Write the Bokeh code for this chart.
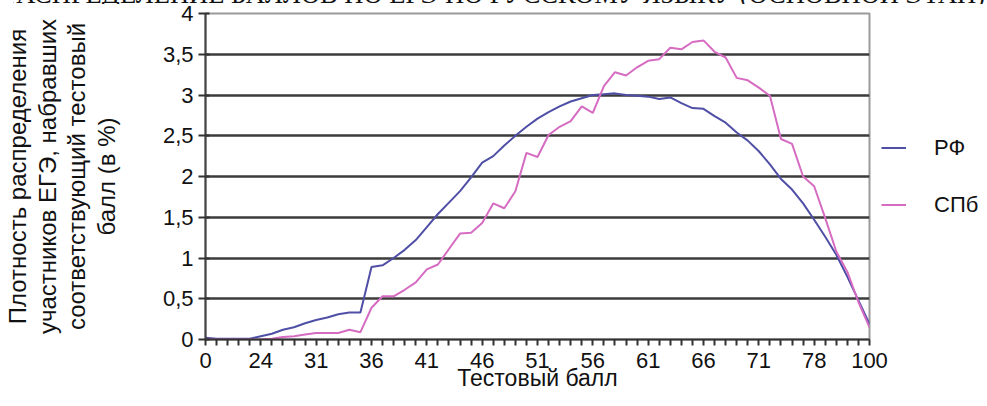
from bokeh.plotting import figure
from bokeh.models import (Range1d, FixedTicker, Legend, LegendItem, Title,
                          CustomJSTickFormatter, Div)
from bokeh.embed import file_html
from bokeh.resources import INLINE

# ---------------- data ----------------
title_text = "РАСПРЕДЕЛЕНИЕ БАЛЛОВ ПО ЕГЭ ПО РУССКОМУ ЯЗЫКУ (ОСНОВНОЙ ЭТАП)"
tick_labels = ["0", "24", "31", "36", "41", "46", "51", "56", "61", "66", "71", "78", "100"]
label_step = 5
series_names = ["РФ", "СПб"]
series_colors = ["#4F4FA6", "#D66CC2"]
rf = [0.02, 0.01, 0.01, 0.01, 0.01, 0.04, 0.07, 0.12, 0.15, 0.20,
      0.24, 0.27, 0.31, 0.33, 0.33, 0.89, 0.91, 1.00, 1.10, 1.22,
      1.38, 1.54, 1.68, 1.82, 1.99, 2.17, 2.25, 2.38, 2.50, 2.61,
      2.71, 2.79, 2.86, 2.92, 2.96, 3.00, 3.01, 3.02, 3.00, 2.99,
      2.98, 2.95, 2.97, 2.90, 2.84, 2.83, 2.74, 2.66, 2.54, 2.44,
      2.31, 2.15, 1.97, 1.84, 1.67, 1.47, 1.26, 1.04, 0.77, 0.48,
      0.19]
spb = [0.0, 0.0, 0.0, 0.0, 0.0, 0.0, 0.01, 0.03, 0.04, 0.06,
       0.08, 0.08, 0.08, 0.12, 0.09, 0.39, 0.53, 0.53, 0.61, 0.70,
       0.86, 0.92, 1.11, 1.30, 1.31, 1.43, 1.67, 1.61, 1.82, 2.29,
       2.24, 2.51, 2.61, 2.68, 2.86, 2.78, 3.11, 3.28, 3.24, 3.34,
       3.42, 3.44, 3.58, 3.56, 3.65, 3.67, 3.53, 3.46, 3.21, 3.18,
       3.09, 2.99, 2.46, 2.40, 2.00, 1.88, 1.49, 1.08, 0.83, 0.46,
       0.15]
y_ticks = [0, 0.5, 1, 1.5, 2, 2.5, 3, 3.5, 4]
y_label_lines = ["Плотность распределения", "участников ЕГЭ, набравших",
                 "соответствующий тестовый", "балл (в %)"]
x_label = "Тестовый балл"

# ---------------- layout ----------------
FONT = "Liberation Sans"
idx = list(range(len(rf)))

p = figure(frame_width=664, frame_height=326, output_backend="svg",
           toolbar_location=None,
           x_range=Range1d(0, len(rf) - 1), y_range=Range1d(0, y_ticks[-1]),
           min_border_left=196, min_border_right=111, min_border_top=0,
           min_border_bottom=0, background_fill_color="white",
           border_fill_color="white")
# small spacer above the frame
p.add_layout(Title(text=" ", text_font_size="4px", standoff=6, offset=0), "above")

p.outline_line_color = "#9a9a9a"
p.outline_line_width = 2

p.xgrid.grid_line_color = None
p.ygrid.ticker = FixedTicker(ticks=y_ticks[1:-1])
p.ygrid.grid_line_color = "#3c3c3c"
p.ygrid.grid_line_width = 2.5

r1 = p.line(idx, rf, line_color=series_colors[0], line_width=2)
r2 = p.line(idx, spb, line_color=series_colors[1], line_width=2)

# x axis
xa = p.xaxis[0]
xa.ticker = FixedTicker(ticks=idx)
xa.major_label_overrides = {i: (tick_labels[i // label_step] if i % label_step == 0 else "")
                            for i in idx}
xa.minor_tick_line_color = None
xa.major_tick_out = 6
xa.major_tick_in = 0
xa.major_tick_line_width = 2
xa.major_tick_line_color = "#333333"
xa.axis_line_width = 2
xa.axis_line_color = "#333333"
xa.major_label_text_font = FONT
xa.major_label_text_font_size = "22px"
xa.major_label_text_color = "#111111"
xa.major_label_standoff = 7
xa.axis_label = x_label
xa.axis_label_standoff = -6
xa.axis_label_text_font = FONT
xa.axis_label_text_font_size = "23px"
xa.axis_label_text_font_style = "normal"
xa.axis_label_text_color = "#111111"

# y axis
ya = p.yaxis[0]
ya.ticker = FixedTicker(ticks=y_ticks)
ya.formatter = CustomJSTickFormatter(code="return tick.toString().replace('.', ',');")
ya.minor_tick_line_color = None
ya.major_tick_out = 7
ya.major_tick_in = 4
ya.major_tick_line_width = 2
ya.major_tick_line_color = "#333333"
ya.axis_line_width = 2
ya.axis_line_color = "#444444"
ya.major_label_text_font = FONT
ya.major_label_text_font_size = "22px"
ya.major_label_text_color = "#111111"
ya.major_label_standoff = 5
ya.axis_label = "\n".join(y_label_lines)
ya.axis_label_standoff = 40
ya.axis_label_text_font = FONT
ya.axis_label_text_font_size = "24px"
ya.axis_label_text_font_style = "normal"
ya.axis_label_text_color = "#111111"
ya.axis_label_text_line_height = 1.1
ya.axis_label_text_align = "center"

legend = Legend(items=[LegendItem(label=series_names[0], renderers=[r1]),
                       LegendItem(label=series_names[1], renderers=[r2])],
                location="center_left", orientation="vertical", margin=12, padding=0,
                spacing=31, glyph_width=25, glyph_height=26, label_height=26,
                label_standoff=28, label_text_font=FONT, label_text_font_size="22px",
                label_text_color="#111111", border_line_color=None,
                background_fill_color=None, background_fill_alpha=0)
p.add_layout(legend, "right")

title_div = Div(
    text=('<div style="width:971px;height:22px;overflow:hidden;">'
          '<div style="width:1100px;margin-left:-68px;text-align:center;white-space:nowrap;'
          "font-family:'Liberation Serif';font-size:26.5px;line-height:22px;padding-top:1px;"
          'color:#111111;">' + title_text + '</div></div>'),
    width=971, height=22,
    styles={"position": "absolute", "top": "-23px", "left": "8px"})

with open("out.html", "w", encoding="utf-8") as f:
    f.write(file_html([p, title_div], INLINE))
